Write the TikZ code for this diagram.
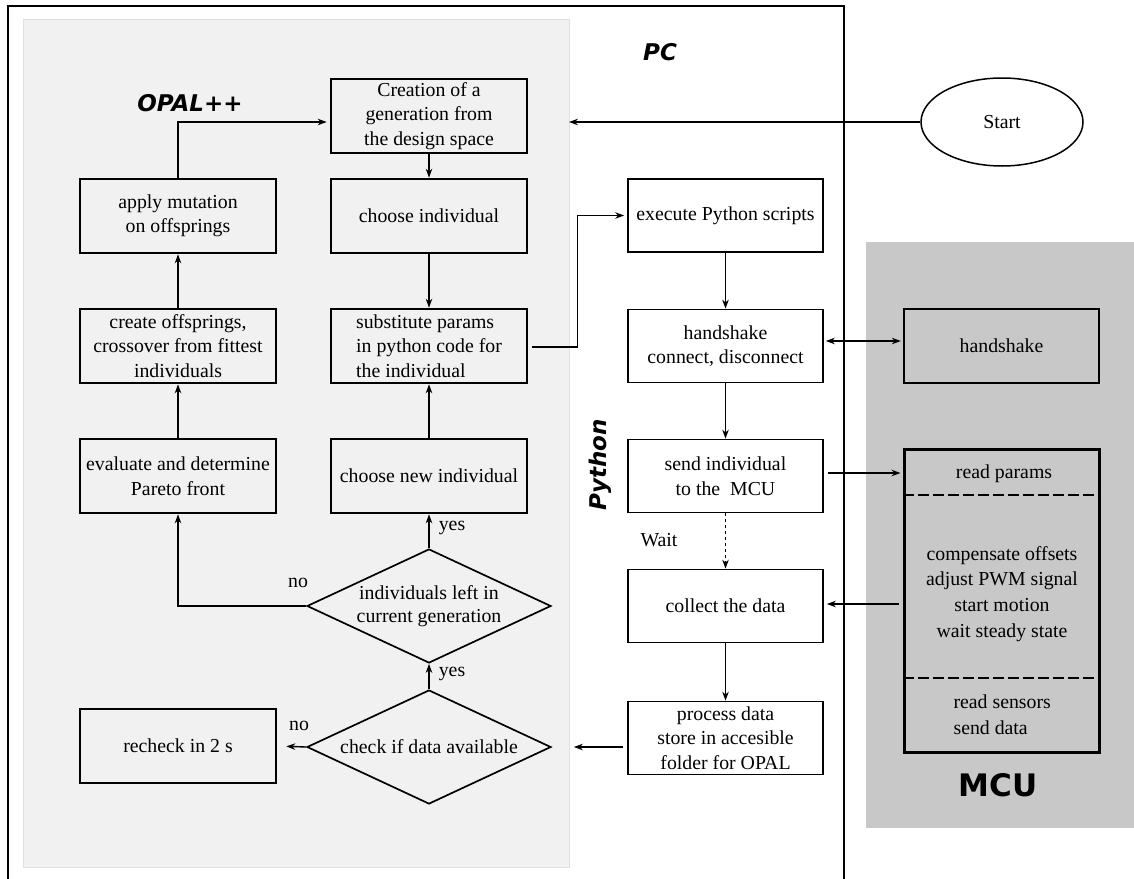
\documentclass[tikz,border=0pt]{standalone}
\usepackage{fontspec}
\setmainfont{Liberation Serif}
\newfontfamily\lblfont{DejaVu Sans}[BoldFont={DejaVu Sans Bold},BoldItalicFont={DejaVu Sans Bold Oblique}]
\usetikzlibrary{shapes.geometric,arrows.meta}
\newcommand{\txtfont}{\fontsize{19.8}{24.5}\selectfont}
\begin{document}
\begin{tikzpicture}[x=1pt,y=-1pt,
  every node/.style={font=\txtfont},
  opal/.style={draw, line width=2.6pt, minimum width=196pt, minimum height=74pt, align=center, inner sep=2pt},
  pybox/.style={draw, line width=1.7pt, fill=white, minimum width=195pt, minimum height=73pt, align=center, inner sep=2pt},
  mcubox/.style={draw, line width=2.3pt, fill=mcugray, minimum width=195pt, minimum height=74pt, align=center},
  dec/.style={diamond, draw, line width=1.7pt, minimum width=244pt, minimum height=114pt, aspect=2.14, inner sep=0pt, align=center, font=\fontsize{19.8}{22.5}\selectfont},
  arr/.style={-{Stealth[length=9pt,width=6.5pt]}, line width=1.4pt},
  darr/.style={{Stealth[length=9pt,width=6.5pt]}-{Stealth[length=9pt,width=6.5pt]}, line width=1.4pt},
  lbl/.style={font=\lblfont\bfseries\itshape\fontsize{23}{26}\selectfont},
  yn/.style={font=\txtfont, inner sep=0pt}
]
\definecolor{opalgray}{HTML}{F0F1F0}
\definecolor{mcugray}{HTML}{C8C8C8}
\useasboundingbox (0,0) rectangle (1134,878);
\fill[white] (0,0) rectangle (1134,878);
% PC frame
\draw[line width=2pt] (8,890) -- (8,6) -- (844,6) -- (844,890);
% OPAL region
\draw[fill=opalgray, draw=black!12, line width=1pt] (23,19) rectangle (569,867);
% MCU region
\fill[mcugray] (866,242) rectangle (1134,828);

% labels
\node[lbl] (lopal) at (190,103) {OPAL++};
\node[lbl] (lpc) at (660,52) {PC};
\node[lbl, rotate=90] (lpy) at (600,465) {Python};
\node[font=\lblfont\bfseries\fontsize{31}{34}\selectfont] (lmcu) at (998,785) {MCU};

% Start
\node[ellipse, draw, line width=1.5pt, minimum width=162pt, minimum height=88pt, inner sep=0pt] (start) at (1002,122) {Start};
\coordinate (sin) at (569,122);

% OPAL column right
\node[opal] (cre) at (429,116) {Creation of a\\generation from\\the design space};
\node[opal] (ci) at (429,216) {choose individual};
\node[opal, align=left] (sub) at (429,346) {substitute params\\in python code for\\the individual};
\node[opal] (cn) at (429,476) {choose new individual};
\node[dec] (d1) at (429,606) {individuals left in\\current generation};
\node[dec] (d2) at (429,747) {check if data available};

% OPAL column left
\node[opal] (mut) at (178,216) {apply mutation\\on offsprings};
\node[opal] (co) at (178,346) {create offsprings,\\crossover from fittest\\individuals};
\node[opal] (ev) at (178,476) {evaluate and determine\\Pareto front};
\node[opal] (rc) at (178,746) {recheck in 2 s};

% Python column
\node[pybox] (exe) at (725.5,215.5) {execute Python scripts};
\node[pybox] (hs) at (725.5,346) {handshake\\connect, disconnect};
\node[pybox] (send) at (725.5,476) {send individual\\to the\ \ MCU};
\node[pybox] (col) at (725.5,606) {collect the data};
\node[pybox] (proc) at (725.5,738) {process data\\store in accesible\\folder for OPAL};

% MCU
\node[mcubox] (hsm) at (1001.5,346) {handshake};
\node[draw, line width=3pt, fill=mcugray, minimum width=195pt, minimum height=303pt, inner sep=0pt] (mcu) at (1001.5,600.5) {};
\draw[line width=2pt, dash pattern=on 11pt off 4pt] (mcu.west |- 0,495) -- (mcu.east |- 0,495);
\draw[line width=2pt, dash pattern=on 11pt off 4pt] (mcu.west |- 0,678) -- (mcu.east |- 0,678);
\node (rp) at (1004,474) {read params};
\node[align=center, font=\fontsize{19.8}{25.7}\selectfont] (mid) at (1002,594) {compensate offsets\\adjust PWM signal\\start motion\\wait steady state};
\node[align=left, anchor=west, font=\fontsize{19.8}{26}\selectfont] (rs) at (950,715) {read sensors\\send data};

% yes/no/wait labels
\node[yn] (y1) at (452,528) {yes};
\node[yn] (n1) at (298,583) {no};
\node[yn] (y2) at (452,674) {yes};
\node[yn] (n2) at (299,726) {no};
\node[yn] (wt) at (659,540) {Wait};

% connectors OPAL
\draw[arr] (start.west) -- (sin);
\draw[arr, shorten >=3pt] (mut.north) |- ([yshift=-6pt]cre.west);
\draw[arr] (cre) -- (ci);
\draw[arr] (ci) -- (sub);
\draw[arr] (cn) -- (sub);
\draw[arr] (d1) -- (cn);
\draw[arr] (d1.west) -| (ev.south);
\draw[arr] (ev) -- (co);
\draw[arr] (co) -- (mut);
\draw[arr] (d2) -- (d1);
\draw[arr, shorten >=9pt] (d2.west) -- (rc.east);

% connectors Python
\draw[arr, line width=1.2pt, shorten >=3pt] ([xshift=4pt,yshift=-1pt]sub.east) -- ++(45,0) |- (exe.west);
\draw[arr] (exe) -- (hs);
\draw[darr, shorten <=2pt, shorten >=2pt] ([yshift=5pt]hs.east) -- ([yshift=5pt]hsm.west);
\draw[arr] (hs) -- (send);
\draw[arr, dashed, line width=1.1pt] (send) -- (col);
\draw[arr] (col) -- (proc);
\draw[arr, shorten <=4pt, shorten >=2pt] ([yshift=3pt]send.east) -- ([yshift=3pt]send.east -| mcu.west);
\draw[arr, shorten <=4pt, shorten >=3pt] (mcu.west |- 0,604) -- (col.east |- 0,604);
\draw[arr, shorten <=4pt] (proc.west |- d2.east) -- ([xshift=22pt]d2.east);
\end{tikzpicture}
\end{document}
